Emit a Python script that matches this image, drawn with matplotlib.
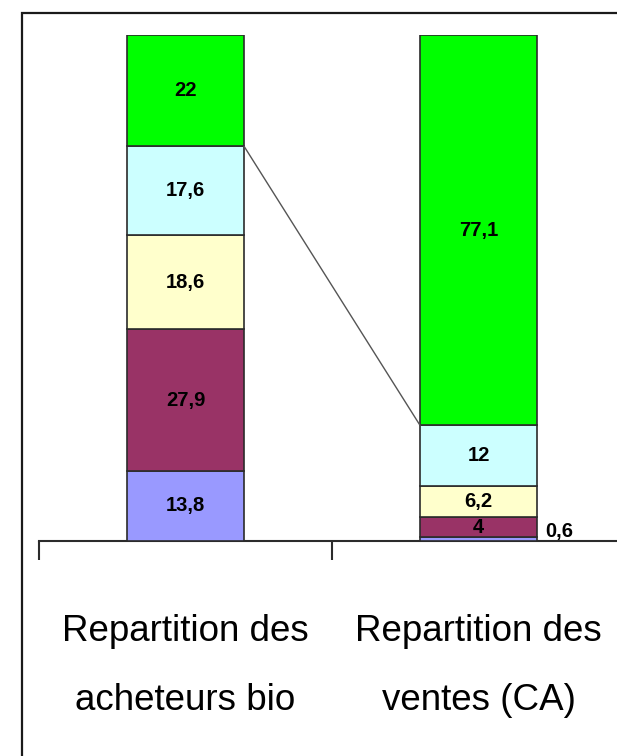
import matplotlib
matplotlib.use("Agg")
import matplotlib.pyplot as plt
from matplotlib.patches import Rectangle

# ---- data ----
categories = ["Repartition des\nacheteurs bio", "Repartition des\nventes (CA)"]
series_colors = ["#9999FF", "#993366", "#FFFFCC", "#CCFFFF", "#00FF00"]
acheteurs = [13.8, 27.9, 18.6, 17.6, 22]
ventes = [0.6, 4, 6.2, 12, 77.1]
values = [acheteurs, ventes]

FONT = ["Liberation Sans", "DejaVu Sans"]
plt.rcParams["font.family"] = FONT

W, H, DPI = 617, 756, 100
fig = plt.figure(figsize=(W / DPI, H / DPI), dpi=DPI)
fig.patch.set_facecolor("white")

# outer frame (cropped at right/bottom like the reference)
fig.patches.append(Rectangle((22 / W, -0.2), 1.2, 1.2 - 12.5 / H,
                             transform=fig.transFigure, fill=False,
                             edgecolor="#1a1a1a", linewidth=1.6))

ax_left = 39 / W
ax_w = 586 / W
ax_bottom = 1 - 540.5 / H
ax_h = (540.5 - 34.5) / H
ax = fig.add_axes([ax_left, ax_bottom, ax_w, ax_h])
ax.set_xlim(-0.5, 1.5)
ax.set_ylim(0, 100)
ax.patch.set_alpha(0)

bw = 0.4
for i, vals in enumerate(values):
    bottom = 0
    for j, v in enumerate(vals):
        ax.bar(i, v, width=bw, bottom=bottom, color=series_colors[j],
               edgecolor="#2b2b2b", linewidth=1.2, zorder=3)
        lab = (f"{v:g}").replace(".", ",")
        if v < 2:
            ax.annotate(lab, xy=(i + bw / 2, bottom), xytext=(6, 0),
                        textcoords="offset points", ha="left", va="bottom",
                        fontsize=14.5, fontweight="bold", zorder=5)
        else:
            ax.text(i, bottom + v / 2, lab, ha="center", va="center",
                    fontsize=14.5, fontweight="bold", zorder=5)
        bottom += v

# connector line between top of the cyan segments
y_left = sum(acheteurs[:4])
y_right = sum(ventes[:4])
ax.plot([0 + bw / 2, 1 - bw / 2], [y_left, y_right], color="#555555",
        linewidth=1.0, zorder=4, clip_on=False)

for s in ["left", "right", "top"]:
    ax.spines[s].set_visible(False)
ax.spines["bottom"].set_color("#2b2b2b")
ax.spines["bottom"].set_linewidth(1.5)
ax.set_yticks([])

ax.set_xticks([-0.5, 0.5, 1.5])
ax.set_xticklabels([])
ax.tick_params(axis="x", which="major", direction="out", length=14,
               width=1.5, color="#2b2b2b")
ax.set_xticks([0, 1], minor=True)
ax.set_xticklabels(categories, minor=True, fontsize=26.5, linespacing=2.27)
ax.tick_params(axis="x", which="minor", length=0, pad=53)

fig.savefig("out.png", dpi=DPI)
